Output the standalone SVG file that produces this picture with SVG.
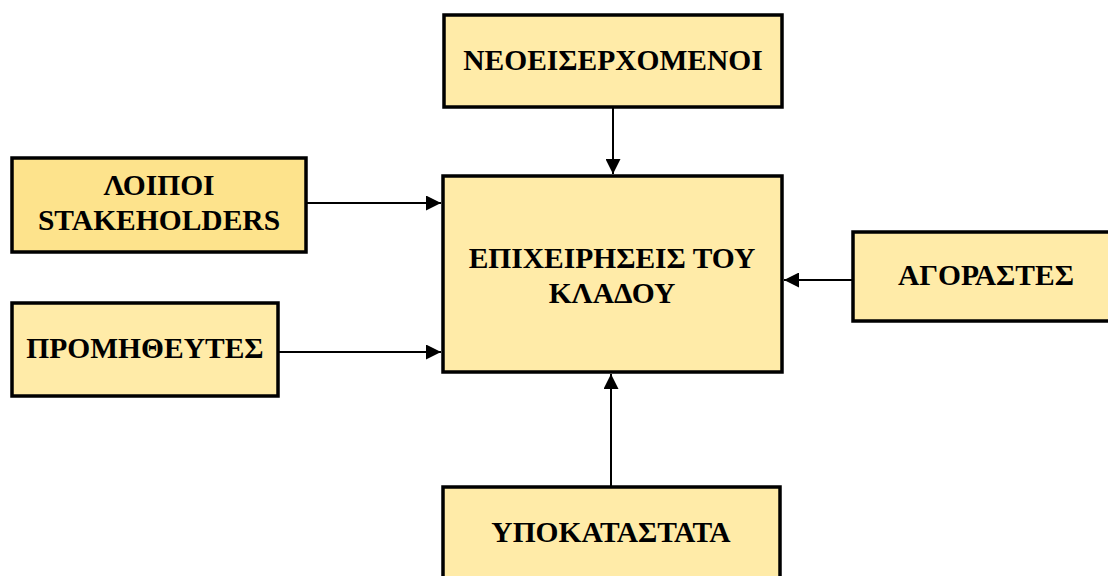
<svg xmlns="http://www.w3.org/2000/svg" width="1108" height="576" viewBox="0 0 1108 576">
<style>
.box{fill:#FFEBA8;stroke:#000;stroke-width:3.5}
.box2{fill:#FDE38C;stroke:#000;stroke-width:3.5}
.t{font-family:"Liberation Serif","Times New Roman",serif;font-weight:bold;font-size:29.5px;fill:#000;text-anchor:middle}
.c{stroke:#000;stroke-width:2;fill:none;marker-end:url(#ah)}
</style>
<defs>
<marker id="ah" viewBox="0 0 10 10" refX="10" refY="5" markerWidth="15" markerHeight="15" markerUnits="userSpaceOnUse" orient="auto">
<path d="M0,0 L10,5 L0,10 Z" fill="#000"/>
</marker>
</defs>
<g id="connectors">
<line class="c" x1="613" y1="107" x2="613" y2="174"/>
<line class="c" x1="306" y1="203" x2="441" y2="203"/>
<line class="c" x1="278" y1="352" x2="441" y2="352"/>
<line class="c" x1="853" y1="280" x2="784" y2="280"/>
<line class="c" x1="611" y1="487" x2="611" y2="374"/>
</g>
<g id="neoeiserxomenoi">
<rect class="box" x="444" y="15" width="338" height="92"/>
<text class="t" x="613" y="70">ΝΕΟΕΙΣΕΡΧΟΜΕΝΟΙ</text>
</g>
<g id="epixeiriseis">
<rect class="box" x="443" y="176" width="339" height="196"/>
<text class="t" x="612" y="268">ΕΠΙΧΕΙΡΗΣΕΙΣ ΤΟΥ</text>
<text class="t" x="612" y="303">ΚΛΑΔΟΥ</text>
</g>
<g id="loipoi">
<rect class="box2" x="12" y="158" width="294" height="94"/>
<text class="t" x="159" y="195">ΛΟΙΠΟΙ</text>
<text class="t" x="159" y="230">STAKEHOLDERS</text>
</g>
<g id="promitheutes">
<rect class="box" x="12" y="303" width="266" height="93"/>
<text class="t" x="145" y="358">ΠΡΟΜΗΘΕΥΤΕΣ</text>
</g>
<g id="agorastes">
<rect class="box" x="853" y="232" width="260" height="89"/>
<text class="t" x="986" y="285">ΑΓΟΡΑΣΤΕΣ</text>
</g>
<g id="ypokatastata">
<rect class="box" x="443" y="487" width="337" height="100"/>
<text class="t" x="611" y="542">ΥΠΟΚΑΤΑΣΤΑΤΑ</text>
</g>
</svg>
